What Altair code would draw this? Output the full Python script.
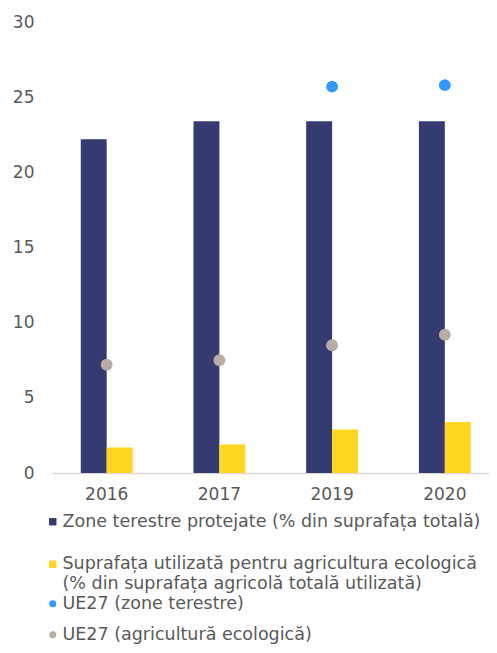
import altair as alt
import pandas as pd

years = ["2016", "2017", "2019", "2020"]
protected_areas = [22.2, 23.4, 23.4, 23.4]
organic_area = [1.7, 1.9, 2.9, 3.4]
eu_terrestrial = [None, None, 25.7, 25.8]
eu_organic = [7.2, 7.5, 8.5, 9.2]

bar_series = [
    "Zone terestre protejate (% din suprafața totală)",
    "Suprafața utilizată pentru agricultura ecologică|(% din suprafața agricolă totală utilizată)",
]
point_series = ["UE27 (zone terestre)", "UE27 (agricultură ecologică)"]

bar_colors = ["#353B70", "#FFD620"]
point_colors = ["#3399FF", "#B9ACA4"]

bars_rows = []
for i, y in enumerate(years):
    bars_rows.append({"year": y, "series": bar_series[0], "value": protected_areas[i]})
    bars_rows.append({"year": y, "series": bar_series[1], "value": organic_area[i]})
bars_df = pd.DataFrame(bars_rows)

pts_rows = []
for i, y in enumerate(years):
    if eu_terrestrial[i] is not None:
        pts_rows.append({"year": y, "pseries": point_series[0], "value": eu_terrestrial[i]})
    pts_rows.append({"year": y, "pseries": point_series[1], "value": eu_organic[i]})
pts_df = pd.DataFrame(pts_rows)

FONT = "DejaVu Sans"
TXT = "#595959"
LEG_FS = 17.5

x_enc = alt.X(
    "year:N",
    sort=years,
    title=None,
    scale=alt.Scale(paddingInner=0.54, paddingOuter=0.213, align=0.62),
    axis=alt.Axis(
        labelAngle=0,
        ticks=False,
        tickSize=0,
        labelPadding=13,
        labelFontSize=17,
        labelColor=TXT,
        labelFont=FONT,
        domainColor="#D9D9D9",
        domainWidth=1.5,
        grid=False,
    ),
)
y_enc = alt.Y(
    "value:Q",
    title=None,
    scale=alt.Scale(domain=[0, 30]),
    axis=alt.Axis(
        values=[0, 5, 10, 15, 20, 25, 30],
        domain=False,
        ticks=False,
        tickSize=0,
        grid=False,
        labelPadding=17,
        labelFontSize=17,
        labelColor=TXT,
        labelFont=FONT,
    ),
)

bars = alt.Chart(bars_df).mark_bar().encode(
    x=x_enc,
    xOffset=alt.XOffset("series:N", sort=bar_series, scale=alt.Scale(paddingInner=0, paddingOuter=0)),
    y=y_enc,
    color=alt.Color(
        "series:N",
        sort=bar_series,
        scale=alt.Scale(domain=bar_series, range=bar_colors),
        legend=alt.Legend(
            title=None,
            orient="none",
            legendX=-7,
            legendY=491,
            symbolType="square",
            symbolSize=55,
            symbolStrokeWidth=0,
            labelFontSize=LEG_FS,
            labelFont=FONT,
            labelColor=TXT,
            labelOffset=1,
            labelLimit=0,
            rowPadding=23.5,
            padding=0,
            labelExpr="split(datum.label, '|')",
        ),
    ),
)

points = alt.Chart(pts_df).mark_circle(size=140, opacity=1).encode(
    x=alt.X("year:N", sort=years),
    y=alt.Y("value:Q"),
    fill=alt.Fill(
        "pseries:N",
        sort=point_series,
        scale=alt.Scale(domain=point_series, range=point_colors),
        legend=alt.Legend(
            title=None,
            orient="none",
            legendX=-7,
            legendY=573,
            symbolType="circle",
            symbolSize=50,
            symbolStrokeWidth=0,
            labelFontSize=LEG_FS,
            labelFont=FONT,
            labelColor=TXT,
            labelOffset=1,
            labelLimit=0,
            rowPadding=12,
            padding=0,
        ),
    ),
)

chart = (
    alt.layer(bars, points)
    .properties(
        width=438,
        height=451,
        padding={"left": 4, "top": 5, "right": 0, "bottom": 0},
    )
    .configure_view(stroke=None)
)

chart.save("out.html", embed_options={"renderer": "svg", "actions": False})
